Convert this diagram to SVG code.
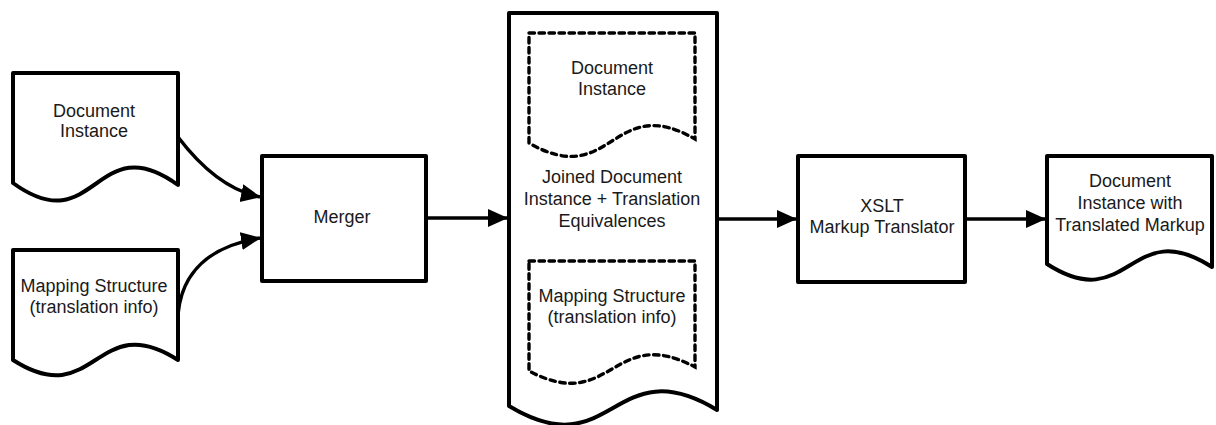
<svg xmlns="http://www.w3.org/2000/svg" width="1216" height="425" viewBox="0 0 1216 425">
  <style>
    .shape { fill: #ffffff; stroke: #000000; stroke-width: 4; stroke-linejoin: round; }
    .inner { fill: none; stroke: #000000; stroke-width: 3.4; stroke-dasharray: 5.5 4.5; stroke-linecap: round; }
    .conn { fill: none; stroke: #000000; stroke-width: 3.5; }
    text { font-family: "Liberation Sans", Arial, sans-serif; font-size: 18px; fill: #1a1a1a; text-anchor: middle; }
  </style>
  <defs>
    <marker id="arrow" markerUnits="userSpaceOnUse" markerWidth="20" markerHeight="20" viewBox="0 0 20 20" refX="19" refY="10" orient="auto">
      <path d="M0,1 L20,10 L0,19 Z" fill="#000000"/>
    </marker>
  </defs>
  <rect width="1216" height="425" fill="#ffffff"/>

  <g id="connectors">
    <path class="conn" d="M178,137 C200,166 226,190 260,197" marker-end="url(#arrow)"/>
    <path class="conn" d="M178,314 C182,272 210,246 260,238" marker-end="url(#arrow)"/>
    <line class="conn" x1="426" y1="218" x2="507" y2="218" marker-end="url(#arrow)"/>
    <line class="conn" x1="717" y1="219" x2="796" y2="219" marker-end="url(#arrow)"/>
    <line class="conn" x1="965" y1="219" x2="1045" y2="219" marker-end="url(#arrow)"/>
  </g>

  <g id="doc-instance">
    <path class="shape" d="M13,73 H178 V185 C95.5,125 95.5,243 13,183 Z"/>
    <text x="94" y="117">Document</text>
    <text x="94" y="137">Instance</text>
  </g>

  <g id="mapping-structure">
    <path class="shape" d="M13,250 H178 V360 C95.5,307 95.5,413 13,360 Z"/>
    <text x="94" y="292">Mapping Structure</text>
    <text x="94" y="313">(translation info)</text>
  </g>

  <g id="merger">
    <rect class="shape" x="262" y="156" width="164" height="125"/>
    <text x="342" y="223">Merger</text>
  </g>

  <g id="joined">
    <path class="shape" d="M509,13 H717 V410 C613,347 613,469 509,406 Z"/>
    <path class="inner" d="M529,33 H695 V139 C612,91 612,191 529,143 Z"/>
    <text x="612" y="74">Document</text>
    <text x="612" y="95">Instance</text>
    <text x="612" y="183">Joined Document</text>
    <text x="612" y="205">Instance + Translation</text>
    <text x="612" y="227">Equivalences</text>
    <path class="inner" d="M529,261 H695 V367 C612,323 612,415 529,371 Z"/>
    <text x="612" y="302">Mapping Structure</text>
    <text x="612" y="323">(translation info)</text>
  </g>

  <g id="xslt">
    <rect class="shape" x="798" y="156" width="167" height="126"/>
    <text x="882" y="212">XSLT</text>
    <text x="882" y="233">Markup Translator</text>
  </g>

  <g id="translated-doc">
    <path class="shape" d="M1047,156 H1212 V267 C1129.5,214 1129.5,317 1047,264 Z"/>
    <text x="1130" y="187">Document</text>
    <text x="1130" y="209">Instance with</text>
    <text x="1130" y="231">Translated Markup</text>
  </g>
</svg>
